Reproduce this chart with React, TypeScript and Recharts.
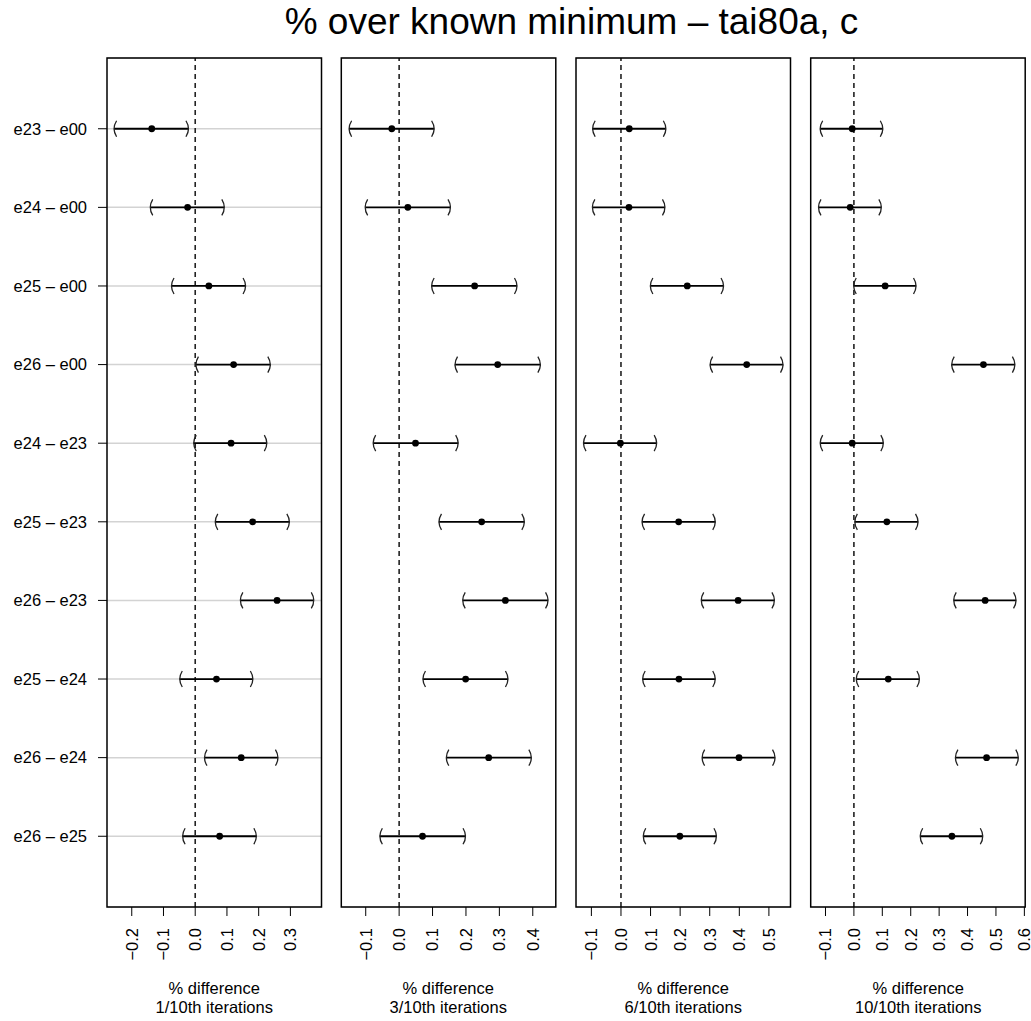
import React from "react"
import { ScatterChart, Scatter, XAxis, YAxis, CartesianGrid, ReferenceLine, ErrorBar } from "recharts"

const PAIRS = [
  "e23 – e00", "e24 – e00", "e25 – e00", "e26 – e00", "e24 – e23",
  "e25 – e23", "e26 – e23", "e25 – e24", "e26 – e24", "e26 – e25",
]
const ROWS = [1, 2, 3, 4, 5, 6, 7, 8, 9, 10]

// 1/10th iterations
const P1_LO = [-0.256, -0.142, -0.075, 0.002, -0.005, 0.063, 0.142, -0.049, 0.029, -0.04]
const P1_EST = [-0.137, -0.024, 0.043, 0.121, 0.113, 0.181, 0.258, 0.067, 0.145, 0.077]
const P1_HI = [-0.021, 0.092, 0.159, 0.237, 0.226, 0.297, 0.374, 0.182, 0.261, 0.193]
const P1_TICKS = [-0.2, -0.1, 0, 0.1, 0.2, 0.3]

// 3/10th iterations
const P2_LO = [-0.15, -0.102, 0.097, 0.167, -0.078, 0.119, 0.19, 0.071, 0.141, -0.058]
const P2_EST = [-0.022, 0.026, 0.226, 0.295, 0.049, 0.247, 0.318, 0.199, 0.268, 0.07]
const P2_HI = [0.105, 0.154, 0.353, 0.423, 0.177, 0.375, 0.446, 0.326, 0.396, 0.199]
const P2_TICKS = [-0.1, 0, 0.1, 0.2, 0.3, 0.4]

// 6/10th iterations
const P3_LO = [-0.096, -0.097, 0.099, 0.301, -0.127, 0.071, 0.271, 0.073, 0.274, 0.075]
const P3_EST = [0.028, 0.027, 0.224, 0.425, -0.002, 0.195, 0.396, 0.196, 0.399, 0.199]
const P3_HI = [0.152, 0.149, 0.347, 0.548, 0.121, 0.319, 0.519, 0.319, 0.521, 0.323]
const P3_TICKS = [-0.1, 0, 0.1, 0.2, 0.3, 0.4, 0.5]

// 10/10th iterations
const P4_LO = [-0.119, -0.125, -0.001, 0.344, -0.119, 0.003, 0.351, 0.008, 0.357, 0.233]
const P4_EST = [-0.006, -0.013, 0.11, 0.456, -0.006, 0.116, 0.462, 0.121, 0.467, 0.345]
const P4_HI = [0.102, 0.097, 0.219, 0.567, 0.104, 0.226, 0.571, 0.231, 0.579, 0.454]
const P4_TICKS = [-0.1, 0, 0.1, 0.2, 0.3, 0.4, 0.5, 0.6]

const TITLE = "% over known minimum – tai80a, c"
const X_TITLE = "% difference"

const FONT = "'Liberation Sans', Arial, Helvetica, sans-serif"
const FS = 16.5
const W = 1031
const H = 1021
const PLOT_TOP = 58
const PLOT_BOTTOM = 907
const PLOT_W = 214.5
const RPAD = 12

const panels = [
  { left: 107, lo: P1_LO, est: P1_EST, hi: P1_HI, ticks: P1_TICKS, domain: [-0.278, 0.398], sub: "1/10th iterations" },
  { left: 341.3, lo: P2_LO, est: P2_EST, hi: P2_HI, ticks: P2_TICKS, domain: [-0.174, 0.468], sub: "3/10th iterations" },
  { left: 576, lo: P3_LO, est: P3_EST, hi: P3_HI, ticks: P3_TICKS, domain: [-0.152, 0.573], sub: "6/10th iterations" },
  { left: 810.7, lo: P4_LO, est: P4_EST, hi: P4_HI, ticks: P4_TICKS, domain: [-0.151, 0.604], sub: "10/10th iterations" },
]

const fmt = (v: number) => {
  const s = Math.abs(v).toFixed(1)
  return v < -1e-9 ? "\u2212" + s : s
}

const XTick = (props: any) => {
  const { x, y, payload } = props
  return (
    <text x={0} y={0} dy="0.36em" textAnchor="end" fontSize={FS} fill="#000"
      transform={`translate(${x},${y}) rotate(-90)`}>
      {fmt(payload.value)}
    </text>
  )
}

const OpenParen = (props: any) => {
  const { cx, cy } = props
  return <path d={`M${cx + 2.6},${cy - 8} Q${cx - 2.4},${cy} ${cx + 2.6},${cy + 8}`} fill="none" stroke="#222" strokeWidth={1.3} />
}
const CloseParen = (props: any) => {
  const { cx, cy } = props
  return <path d={`M${cx - 2.6},${cy - 8} Q${cx + 2.4},${cy} ${cx - 2.6},${cy + 8}`} fill="none" stroke="#222" strokeWidth={1.3} />
}
const Dot = (props: any) => <circle cx={props.cx} cy={props.cy} r={3.4} fill="#000" />

function Panel({ p, showY }: any) {
  const loData = ROWS.map((row, i) => ({ row, x: p.lo[i] }))
  const hiData = ROWS.map((row, i) => ({ row, x: p.hi[i] }))
  const estData = ROWS.map((row, i) => ({
    row,
    x: p.est[i],
    err: [p.est[i] - p.lo[i], p.hi[i] - p.est[i]],
  }))
  const yW = showY ? p.left : 0
  const xLabel = (lp: any) => {
    const vb = lp.viewBox
    const cx = vb.x + vb.width / 2
    return (
      <g>
        <text x={cx} y={vb.y + 87} textAnchor="middle" fontSize={FS} fill="#000">{X_TITLE}</text>
        <text x={cx} y={vb.y + 106} textAnchor="middle" fontSize={FS} fill="#000">{p.sub}</text>
      </g>
    )
  }
  return (
    <div style={{ position: "absolute", left: p.left - yW, top: 0 }}>
      <ScatterChart width={yW + PLOT_W + RPAD} height={H} margin={{ top: PLOT_TOP, right: RPAD, bottom: 0, left: 0 }}>
        <CartesianGrid vertical={false} stroke="#d3d3d3" strokeWidth={1.5} />
        <XAxis type="number" dataKey="x" domain={p.domain} allowDataOverflow ticks={p.ticks} interval={0}
          height={H - PLOT_BOTTOM} axisLine={false} tickLine={{ stroke: "#000" }} tickSize={9} tickMargin={12}
          tick={<XTick />} label={xLabel} />
        <YAxis type="number" dataKey="row" domain={[0.1, 10.9]} reversed allowDataOverflow ticks={ROWS} interval={0}
          width={yW} axisLine={false} tick={showY ? { fontSize: FS, fill: "#000" } : false}
          tickLine={showY ? { stroke: "#000" } : false} tickSize={9} tickMargin={11}
          tickFormatter={(v: number) => PAIRS[v - 1]} />
        <ReferenceLine x={0} stroke="#222" strokeWidth={1.6} strokeDasharray="5 4" />
        <Scatter data={estData} shape={<Dot />} isAnimationActive={false}>
          <ErrorBar dataKey="err" direction="x" width={0} stroke="#000" strokeWidth={1.8} isAnimationActive={false} />
        </Scatter>
        <Scatter data={loData} shape={<OpenParen />} isAnimationActive={false} />
        <Scatter data={hiData} shape={<CloseParen />} isAnimationActive={false} />
      </ScatterChart>
    </div>
  )
}

export default function App() {
  return (
    <div style={{ position: "absolute", left: 0, top: 0, width: W, height: H, background: "#fff", fontFamily: FONT }}>
      {panels.map((p, i) => (
        <Panel key={i} p={p} showY={i === 0} />
      ))}
      <svg width={W} height={H} style={{ position: "absolute", left: 0, top: 0, pointerEvents: "none" }}>
        <text x={571.5} y={34} textAnchor="middle" fontSize={37} fill="#000" fontFamily={FONT}>{TITLE}</text>
        {panels.map((p, i) => (
          <rect key={i} x={p.left} y={PLOT_TOP} width={PLOT_W} height={PLOT_BOTTOM - PLOT_TOP}
            fill="none" stroke="#000" strokeWidth={1.5} />
        ))}
      </svg>
    </div>
  )
}
